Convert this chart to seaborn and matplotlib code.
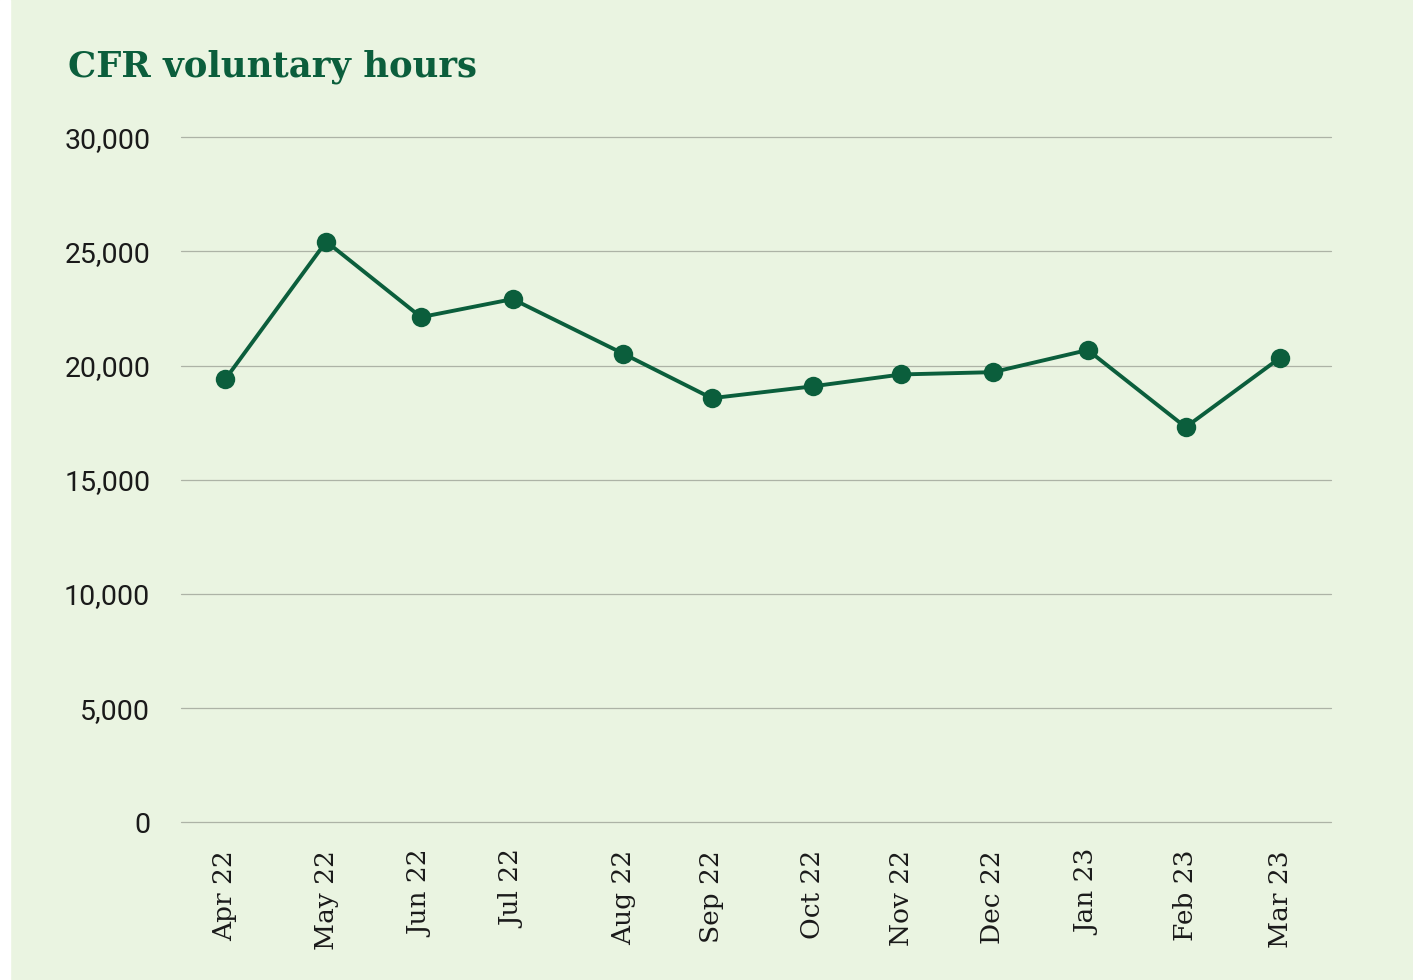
# import modules
import pandas as pd
import matplotlib.pyplot as plt
from matplotlib.patches import Rectangle
import seaborn as sns


# data (points sit at uneven dates in the original chart)
dates = ["2022-04-01", "2022-05-03", "2022-06-02", "2022-07-01", "2022-08-05", "2022-09-02",
         "2022-10-04", "2022-11-01", "2022-11-30", "2022-12-30", "2023-01-30", "2023-03-01"]
labels = ["Apr 22", "May 22", "Jun 22", "Jul 22", "Aug 22", "Sep 22",
          "Oct 22", "Nov 22", "Dec 22", "Jan 23", "Feb 23", "Mar 23"]
hours = [19390, 25430, 22120, 22910, 20520, 18570,
         19090, 19610, 19710, 20680, 17300, 20350]

data = pd.DataFrame({"date": pd.to_datetime(dates), "hours": hours})

bg = "#eaf4e1"
green = "#0b5e3c"

sns.set_style("white")
plt.rcParams["font.family"] = ["DejaVu Serif"]

fig = plt.figure(figsize=(14.13, 9.8), dpi=100, facecolor=bg)
fig.add_artist(Rectangle((0, 0), 10 / 1413, 1, transform=fig.transFigure, color="white", zorder=0))
ax = fig.add_axes([0.128, 0.161, 0.814, 0.699])
ax.set_facecolor(bg)

sns.lineplot(data=data, x="date", y="hours", ax=ax, color=green, linewidth=2.8,
             marker="o", markersize=14, markeredgewidth=0, zorder=3)

# axes setup
ax.set_ylim(0, 30000)
ax.set_yticks(range(0, 30001, 5000))
ax.set_yticklabels([f"{v:,}" for v in range(0, 30001, 5000)], fontsize=20.5,
                   family="Roboto", color="#1a1a1a")
ax.set_xlim(data["date"].iloc[0] - pd.Timedelta(days=14), data["date"].iloc[0] + pd.Timedelta(days=350))
ax.set_xticks(data["date"])
ax.set_xticklabels(labels, rotation=90, fontsize=19, color="#1a1a1a")
ax.tick_params(axis="y", length=0, pad=22)
ax.tick_params(axis="x", length=0, pad=20)
ax.grid(axis="y", color="#adb3a6", linewidth=0.9)
ax.grid(axis="x", visible=False)
for gl in ax.get_ygridlines():
    gl.set_clip_on(False)
ax.set_axisbelow(True)
for s in ax.spines.values():
    s.set_visible(False)
ax.set_xlabel("")
ax.set_ylabel("")

fig.text(68 / 1413, 1 - 76 / 980, "CFR voluntary hours", fontsize=25.5, fontweight="bold",
         color=green, ha="left", va="baseline")

plt.savefig("out.png", dpi=100, facecolor=bg)
